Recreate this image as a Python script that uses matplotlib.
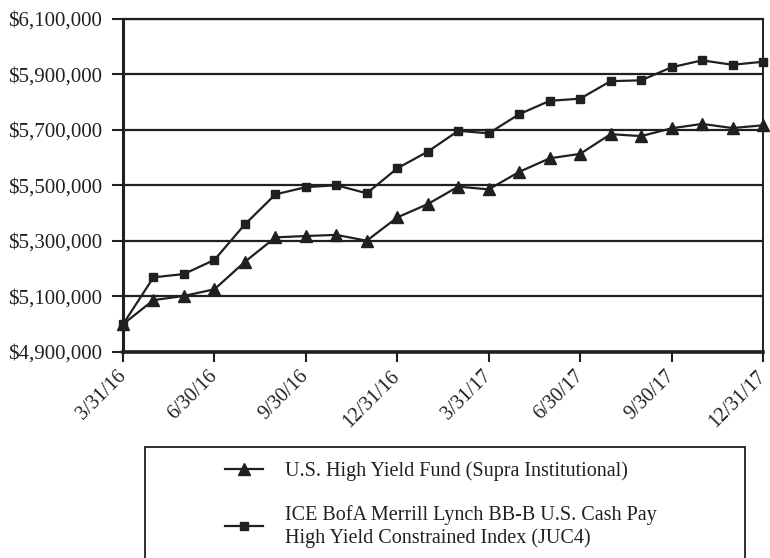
import matplotlib
matplotlib.use("Agg")
import matplotlib.pyplot as plt
import matplotlib.transforms as mtransforms
from matplotlib.patches import Rectangle
from matplotlib.ticker import FuncFormatter

plt.rcParams['font.family'] = ['Liberation Serif', 'DejaVu Serif']

INK = '#231f20'

# month-end values, 3/31/16 through 12/31/17
fund = [5000000, 5087000, 5102000, 5126000, 5225000, 5313000, 5318000, 5322000,
        5301000, 5385000, 5433000, 5496000, 5486000, 5549000, 5598000, 5614000,
        5685000, 5678000, 5706000, 5722000, 5707000, 5717000]
index = [5000000, 5169000, 5181000, 5232000, 5360000, 5468000, 5494000, 5501000,
         5472000, 5562000, 5622000, 5697000, 5688000, 5757000, 5805000, 5813000,
         5876000, 5879000, 5926000, 5951000, 5935000, 5946000]
quarter_labels = ['3/31/16', '6/30/16', '9/30/16', '12/31/16',
                  '3/31/17', '6/30/17', '9/30/17', '12/31/17']
series_names = ['U.S. High Yield Fund (Supra Institutional)',
                'ICE BofA Merrill Lynch BB-B U.S. Cash Pay\nHigh Yield Constrained Index (JUC4)']

fig = plt.figure(figsize=(7.7, 5.58), dpi=100)
ax = fig.add_axes([123/770, 1 - 352/558, 640/770, 333/558])

months = list(range(len(fund)))
h1, = ax.plot(months, fund, color=INK, lw=1.6, marker='^', markersize=8.5,
              clip_on=False, zorder=4)
h2, = ax.plot(months, index, color=INK, lw=1.6, marker='s', markersize=6,
              clip_on=False, zorder=4)

ax.set_xlim(0, len(fund) - 1)
ax.set_ylim(4900000, 6100000)
ax.set_yticks(range(4900000, 6100001, 200000))
ax.yaxis.set_major_formatter(FuncFormatter(lambda v, p: '${:,.0f}'.format(v)))
ax.set_xticks(range(0, len(fund), 3))
ax.set_xticklabels(quarter_labels, rotation=45, ha='right', va='center',
                   rotation_mode='anchor')
# nudge the slanted dates a little right of their ticks
nudge = mtransforms.ScaledTranslation(3/100, 0, fig.dpi_scale_trans)
for lbl in ax.get_xticklabels():
    lbl.set_transform(lbl.get_transform() + nudge)

ax.grid(axis='y', color=INK, lw=1.6)
ax.set_axisbelow(True)
ax.tick_params(axis='y', length=8, width=1.5, color=INK, pad=7,
               labelsize=15, labelcolor=INK)
ax.tick_params(axis='x', length=7.5, width=1.5, color=INK, pad=8,
               labelsize=14.5, labelcolor=INK)

for side, w in [('left', 2.2), ('bottom', 2.6), ('right', 1.4), ('top', 1.6)]:
    ax.spines[side].set_color(INK)
    ax.spines[side].set_linewidth(w)

# legend box runs off the bottom of the figure
fig.patches.append(Rectangle((145/770, -0.05), 600/770, 0.05 + 1 - 447/558,
                             transform=fig.transFigure, fill=False,
                             edgecolor=INK, lw=1.3))
fig.legend([h1, h2], series_names, loc='upper left',
           bbox_to_anchor=(215/770, 1 - 451/558), frameon=False,
           fontsize=14.5, handlelength=1.9, handletextpad=1.1,
           labelspacing=1.2, borderpad=0, labelcolor=INK)

fig.savefig('out.png', dpi=100)
